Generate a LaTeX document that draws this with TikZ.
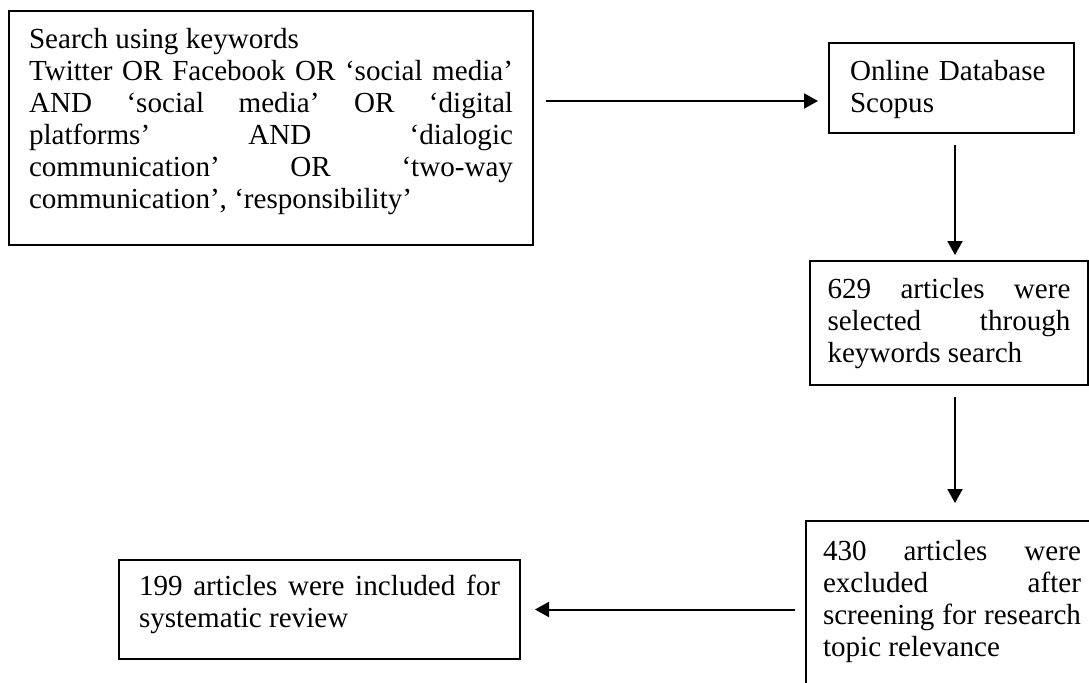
\documentclass[tikz,border=0pt]{standalone}
\usepackage{fontspec}
\setmainfont{Liberation Serif}
\usetikzlibrary{arrows.meta}
\tolerance=10000
\hbadness=10000
\hyphenpenalty=10000
\tikzset{
  stage/.style = {rectangle, draw=black, line width=1pt, anchor=north west, outer sep=0pt, inner ysep=0pt, align=justify, font=\fontsize{14.55pt}{16pt}\selectfont},
  line/.style = {-{Triangle[length=7pt, width=7.5pt]}, line width=1pt}
}

\begin{document}
\begin{tikzpicture}[x=0.5pt, y=-0.5pt]
\useasboundingbox (0,0) rectangle (1089,682);
\clip (0,0) rectangle (1089,682);

% Top row
\node[stage, inner xsep=10pt, text width=242pt, text height=18.5pt, text depth=98.5pt] (search) at (9,11) {Search using keywords\\
Twitter OR Facebook OR ‘social media’\linebreak
AND ‘social media’ OR ‘digital\linebreak
platforms’ AND ‘dialogic\linebreak
communication’ OR ‘two-way\linebreak
communication’, ‘responsibility’};

\node[stage, align=left, inner xsep=10.5pt, text width=101.5pt, text height=18.5pt, text depth=26.5pt] (db) at (829,43) {Online Database\\ Scopus};

% Right column
\node[stage, inner xsep=8.75pt, text width=121.5pt, text height=18.5pt, text depth=43.5pt] (sel) at (810,261) {629 articles were\linebreak
selected through\linebreak
keywords search};

\node[stage, inner xsep=8.5pt, text width=129pt, text height=19.5pt, text depth=100pt] (excl) at (806,521) {430 articles were\linebreak
excluded after\linebreak
screening for research\linebreak
topic relevance};

% Bottom left
\node[stage, inner xsep=10pt, text width=180.5pt, text height=17.5pt, text depth=32pt] (incl) at (119,560) {199 articles were included for\linebreak
systematic review};

% Connections
\draw[line, shorten <=6.5pt, shorten >=5.5pt] ([yshift=13.5pt]search.east) -- ([yshift=-6.5pt]db.west);
\draw[line, shorten <=6pt, shorten >=3pt] ([xshift=1.75pt]db.south) -- ([xshift=1.75pt]db.south |- sel.north);
\draw[line, shorten <=6pt, shorten >=9pt] ([xshift=3pt]sel.south) -- ([xshift=3pt]sel.south |- excl.north);
\draw[line, shorten <=5.5pt, shorten >=7.5pt] (excl.west |- incl.east) -- (incl.east);

\end{tikzpicture}
\end{document}
